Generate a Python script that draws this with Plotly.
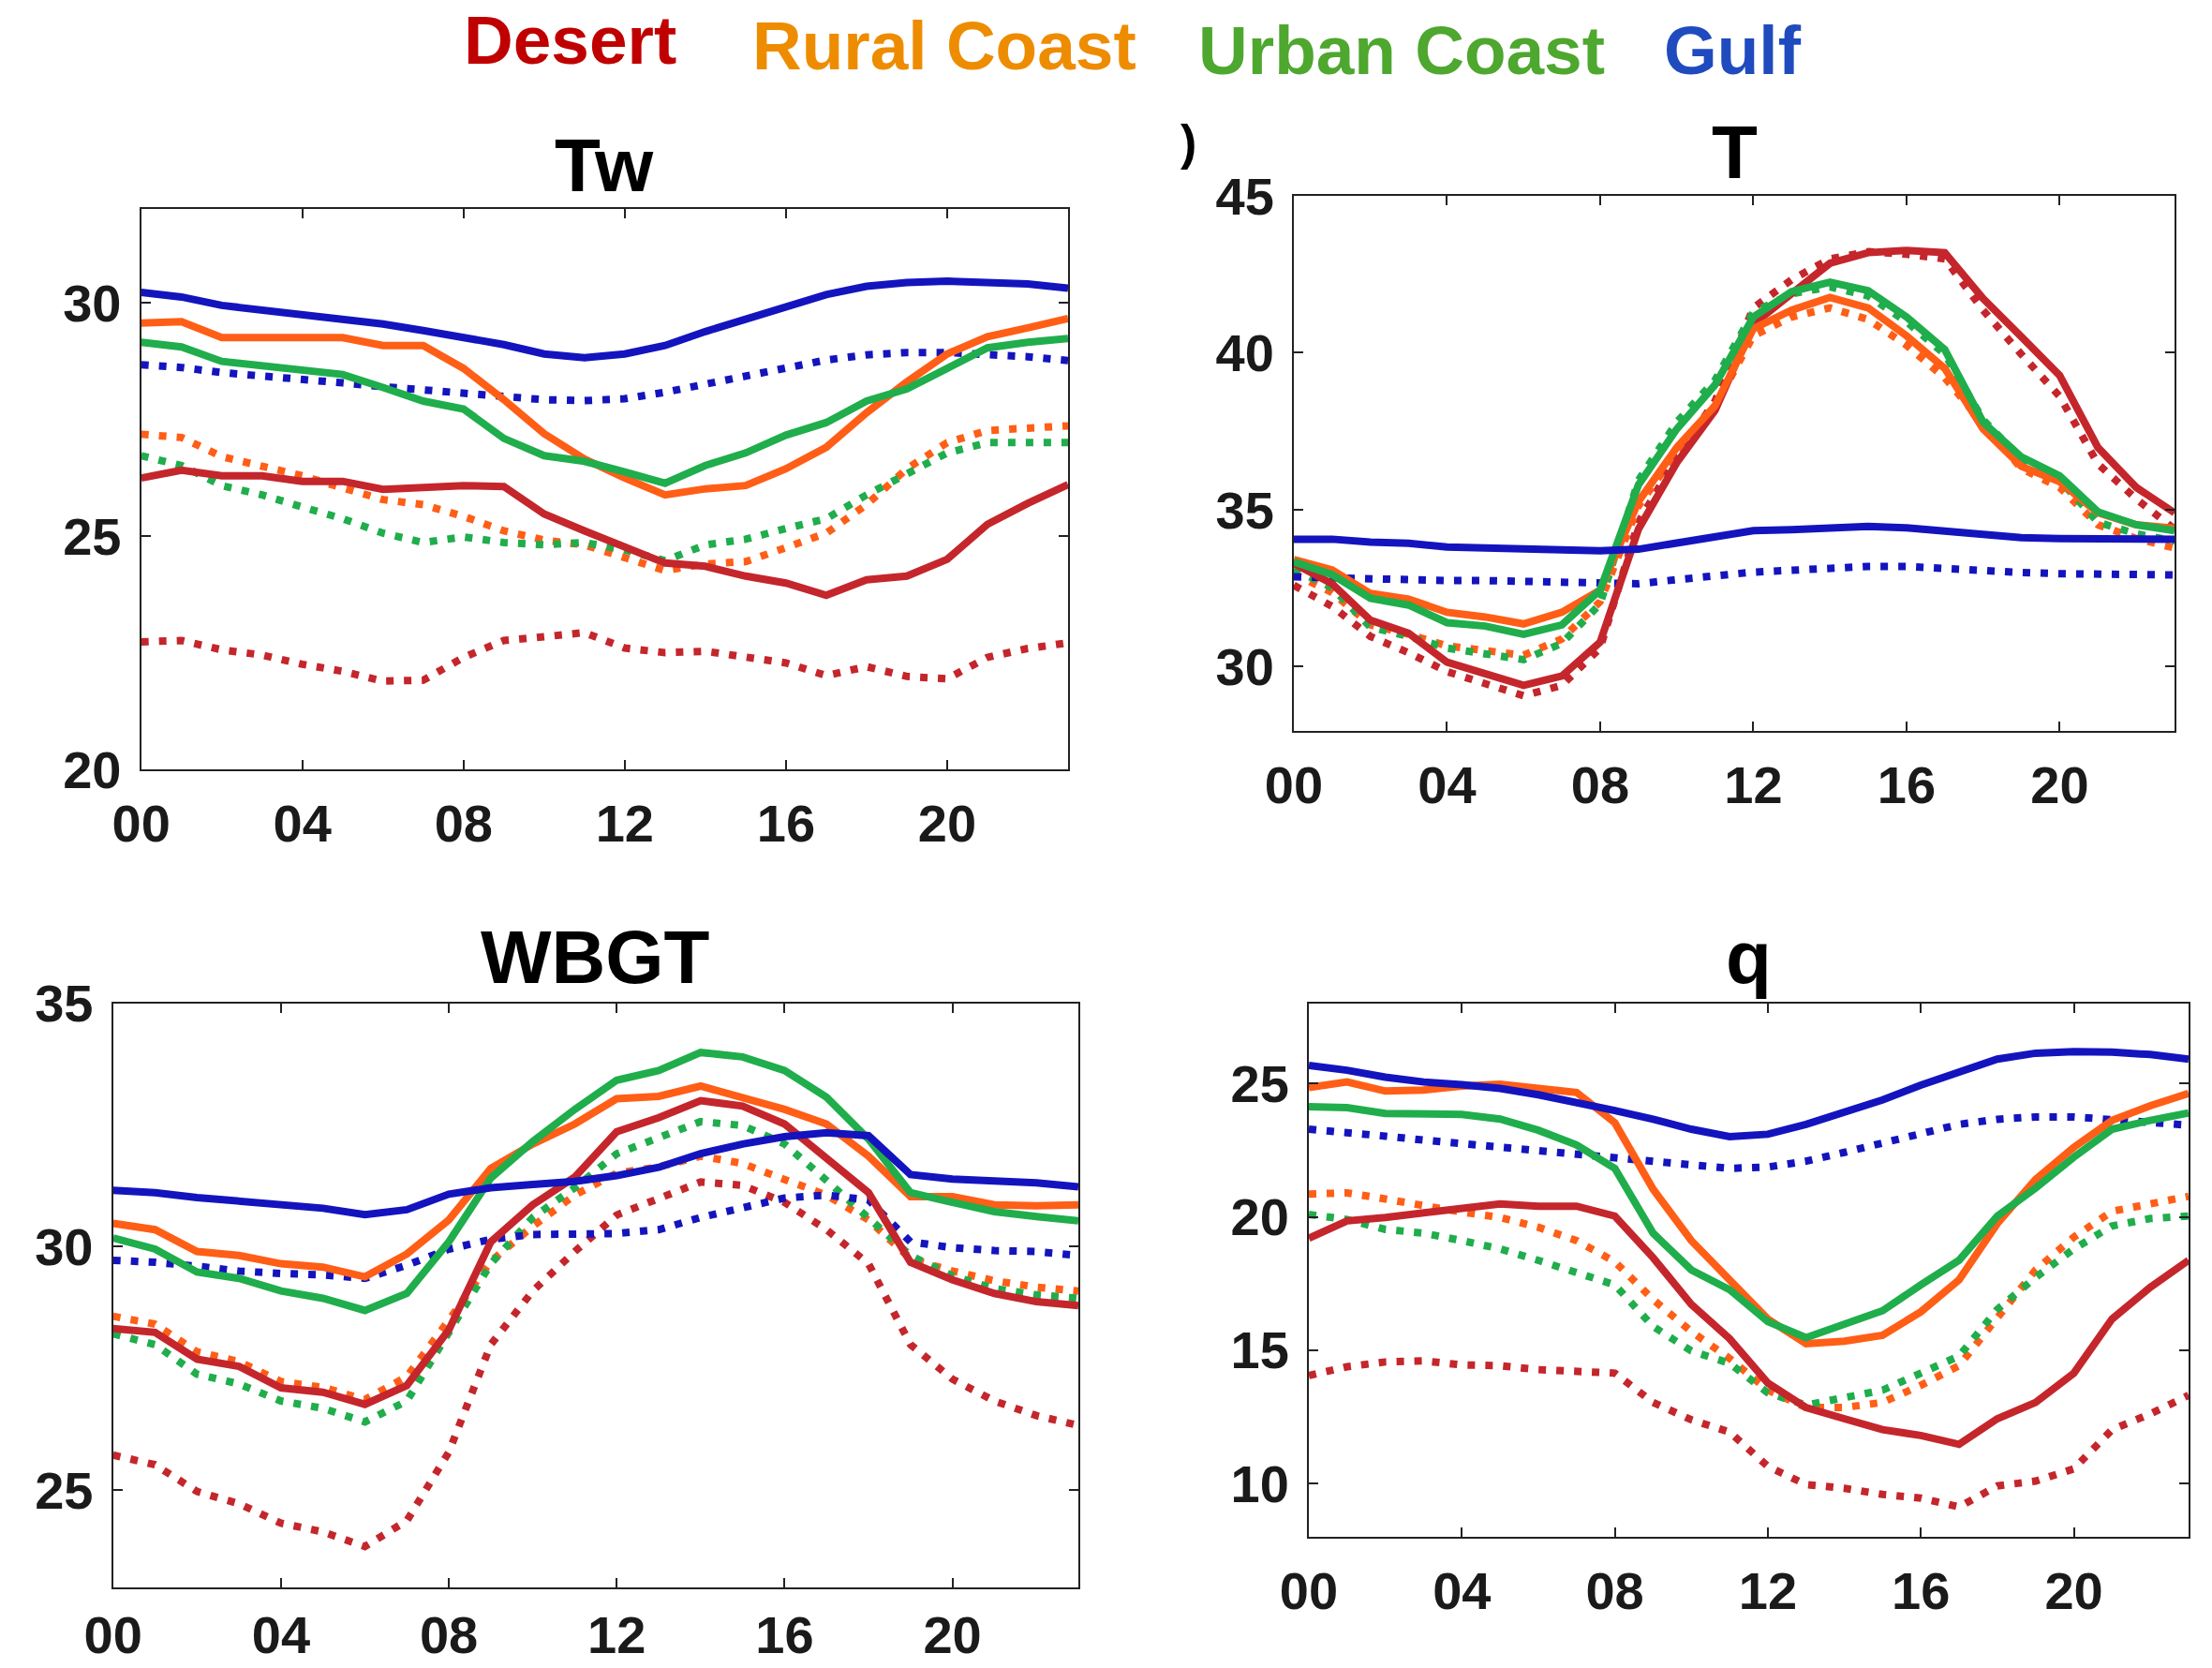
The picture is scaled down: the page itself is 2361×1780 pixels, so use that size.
import plotly.graph_objects as go

W, H = 2361, 1780
hours = list(range(24))
x_tickvals = [0, 4, 8, 12, 16, 20]
x_ticktext = ["00", "04", "08", "12", "16", "20"]

region_names = ["Desert", "Rural Coast", "Urban Coast", "Gulf"]
legend_colors = ["#C00000", "#EE8C00", "#4EA72E", "#1F4BBE"]
line_colors = {"Desert": "#C4262C", "Rural Coast": "#FF5E16", "Urban Coast": "#20AD4C", "Gulf": "#1414BE"}

# ---------------- Tw ----------------
tw_desert = [26.24, 26.41, 26.29, 26.29, 26.17, 26.17, 26.00, 26.03, 26.08, 26.06, 25.47, 25.11,
             24.75, 24.42, 24.35, 24.14, 23.99, 23.73, 24.06, 24.14, 24.50, 25.25, 25.70, 26.10]
tw_desert_dot = [22.73, 22.76, 22.56, 22.45, 22.25, 22.10, 21.89, 21.91, 22.40, 22.76, 22.84, 22.93,
                 22.60, 22.50, 22.53, 22.40, 22.28, 22.01, 22.20, 21.99, 21.94, 22.40, 22.59, 22.71]
tw_rural = [29.56, 29.59, 29.25, 29.25, 29.25, 29.25, 29.08, 29.08, 28.59, 27.92, 27.19, 26.65,
            26.24, 25.88, 26.01, 26.08, 26.44, 26.90, 27.64, 28.30, 28.90, 29.27, 29.46, 29.66]
tw_rural_dot = [27.18, 27.11, 26.70, 26.51, 26.29, 26.03, 25.78, 25.67, 25.42, 25.11, 24.91, 24.81,
                24.55, 24.26, 24.40, 24.45, 24.75, 25.06, 25.67, 26.44, 27.00, 27.26, 27.31, 27.36]
tw_urban = [29.15, 29.05, 28.74, 28.66, 28.57, 28.46, 28.18, 27.89, 27.72, 27.09, 26.72, 26.60,
            26.37, 26.13, 26.51, 26.78, 27.16, 27.43, 27.89, 28.15, 28.59, 29.03, 29.15, 29.23]
tw_urban_dot = [26.72, 26.51, 26.08, 25.88, 25.62, 25.37, 25.06, 24.86, 24.98, 24.86, 24.81, 24.86,
                24.70, 24.47, 24.81, 24.93, 25.16, 25.37, 25.88, 26.34, 26.78, 27.00, 27.00, 27.00]
tw_gulf = [30.22, 30.12, 29.94, 29.84, 29.76, 29.66, 29.54, 29.40, 29.25, 29.10, 28.90, 28.82,
           28.90, 29.08, 29.38, 29.64, 29.92, 30.17, 30.35, 30.43, 30.46, 30.45, 30.40, 30.31]
tw_gulf_dot = [28.67, 28.61, 28.50, 28.44, 28.36, 28.28, 28.20, 28.13, 28.05, 27.98, 27.92, 27.90,
               27.94, 28.08, 28.25, 28.44, 28.61, 28.77, 28.88, 28.93, 28.93, 28.90, 28.84, 28.76]

# ---------------- T ----------------
t_desert = [33.29, 32.64, 31.48, 31.06, 30.14, 29.80, 29.40, 29.70, 30.78, 34.38, 36.50, 38.16,
            40.91, 41.88, 42.85, 43.19, 43.26, 43.19, 41.73, 40.51, 39.28, 36.98, 35.71, 34.90]
t_desert_dot = [32.59, 31.92, 30.96, 30.44, 29.84, 29.47, 29.07, 29.40, 30.59, 34.60, 36.68, 38.46,
                41.43, 42.33, 42.99, 43.22, 43.14, 42.99, 41.36, 39.95, 38.61, 36.46, 35.34, 34.38]
t_rural = [33.41, 33.08, 32.33, 32.15, 31.73, 31.58, 31.36, 31.73, 32.44, 35.26, 36.98, 38.31,
           40.77, 41.36, 41.76, 41.43, 40.54, 39.50, 37.57, 36.38, 35.89, 34.90, 34.52, 34.41]
t_rural_dot = [32.96, 32.36, 31.33, 31.03, 30.66, 30.51, 30.36, 30.88, 32.07, 35.12, 36.83, 38.31,
               40.54, 41.14, 41.43, 41.06, 40.24, 39.20, 37.72, 36.31, 35.71, 34.52, 34.08, 33.78]
t_urban = [33.34, 32.93, 32.18, 31.96, 31.40, 31.29, 31.03, 31.33, 32.44, 35.79, 37.57, 38.98,
           41.14, 41.95, 42.25, 41.98, 41.14, 40.10, 37.79, 36.68, 36.08, 34.93, 34.52, 34.33]
t_urban_dot = [33.11, 32.51, 31.26, 30.96, 30.59, 30.41, 30.22, 30.74, 32.00, 35.94, 37.79, 39.13,
               41.29, 41.88, 42.10, 41.81, 40.99, 39.95, 37.87, 36.60, 35.94, 34.60, 34.23, 34.00]
t_gulf = [34.06, 34.06, 33.97, 33.93, 33.81, 33.78, 33.77, 33.74, 33.69, 33.74, 33.93, 34.18,
          34.33, 34.36, 34.44, 34.47, 34.42, 34.30, 34.18, 34.11, 34.08, 34.08, 34.06, 34.06]
t_gulf_dot = [32.86, 32.82, 32.79, 32.79, 32.74, 32.74, 32.71, 32.67, 32.62, 32.64, 32.77, 32.92,
              33.01, 33.07, 33.14, 33.19, 33.19, 33.11, 33.04, 33.00, 32.96, 32.96, 32.93, 32.92]

# ---------------- WBGT ----------------
wbgt_desert = [28.32, 28.24, 27.69, 27.54, 27.10, 27.01, 26.76, 27.15, 28.29, 30.10, 30.86, 31.43,
               32.36, 32.65, 33.00, 32.89, 32.52, 31.83, 31.11, 29.68, 29.32, 29.04, 28.87, 28.79]
wbgt_desert_dot = [25.72, 25.52, 24.97, 24.72, 24.32, 24.14, 23.84, 24.37, 25.78, 27.99, 29.09, 29.90,
                   30.65, 31.01, 31.33, 31.26, 30.91, 30.35, 29.65, 27.99, 27.28, 26.83, 26.53, 26.33]
wbgt_rural = [30.48, 30.35, 29.90, 29.82, 29.65, 29.58, 29.38, 29.85, 30.55, 31.61, 32.11, 32.52,
              33.04, 33.09, 33.30, 33.07, 32.82, 32.52, 31.86, 31.03, 31.03, 30.86, 30.84, 30.86]
wbgt_rural_dot = [28.57, 28.41, 27.84, 27.64, 27.23, 27.11, 26.86, 27.33, 28.49, 29.70, 30.42, 31.06,
                  31.51, 31.64, 31.86, 31.71, 31.38, 31.06, 30.55, 29.75, 29.50, 29.30, 29.17, 29.09]
wbgt_urban = [30.18, 29.95, 29.48, 29.35, 29.09, 28.94, 28.69, 29.04, 30.10, 31.41, 32.16, 32.82,
              33.42, 33.62, 33.99, 33.90, 33.62, 33.07, 32.21, 31.11, 30.91, 30.72, 30.62, 30.53]
wbgt_urban_dot = [28.21, 27.99, 27.38, 27.18, 26.83, 26.68, 26.40, 26.83, 28.24, 29.65, 30.60, 31.21,
                  31.91, 32.26, 32.57, 32.49, 32.11, 31.36, 30.60, 29.82, 29.40, 29.14, 29.01, 28.94]
wbgt_gulf = [31.16, 31.11, 31.01, 30.93, 30.86, 30.79, 30.66, 30.76, 31.08, 31.21, 31.28, 31.34,
             31.46, 31.63, 31.91, 32.11, 32.26, 32.34, 32.28, 31.48, 31.39, 31.36, 31.31, 31.23]
wbgt_gulf_dot = [29.72, 29.68, 29.60, 29.50, 29.45, 29.42, 29.35, 29.62, 29.95, 30.15, 30.25, 30.27,
                 30.27, 30.35, 30.60, 30.80, 31.00, 31.06, 30.96, 30.10, 29.98, 29.92, 29.90, 29.82]

# ---------------- q ----------------
q_desert = [19.20, 19.85, 19.98, 20.16, 20.31, 20.49, 20.40, 20.40, 20.03, 18.47, 16.72, 15.43,
            13.77, 12.85, 12.43, 12.02, 11.80, 11.47, 12.43, 13.04, 14.14, 16.17, 17.36, 18.37]
q_desert_dot = [14.05, 14.38, 14.56, 14.60, 14.45, 14.42, 14.27, 14.20, 14.14, 13.04, 12.39, 11.93,
                10.64, 9.96, 9.82, 9.59, 9.45, 9.12, 9.91, 10.09, 10.55, 12.02, 12.61, 13.31]
q_rural = [24.85, 25.06, 24.72, 24.76, 24.91, 24.98, 24.82, 24.67, 23.53, 21.04, 19.11, 17.64,
           16.17, 15.24, 15.34, 15.56, 16.44, 17.64, 19.75, 21.41, 22.61, 23.62, 24.17, 24.63]
q_rural_dot = [20.86, 20.90, 20.67, 20.40, 20.18, 19.98, 19.61, 19.11, 18.32, 16.90, 15.70, 14.69,
               13.50, 12.85, 12.85, 13.04, 13.68, 14.42, 16.26, 18.01, 19.24, 20.21, 20.49, 20.77]
q_urban = [24.13, 24.10, 23.88, 23.84, 23.84, 23.67, 23.25, 22.70, 21.82, 19.39, 18.01, 17.27,
           16.07, 15.47, 15.98, 16.48, 17.45, 18.37, 20.03, 21.08, 22.24, 23.29, 23.62, 23.90]
q_urban_dot = [20.09, 19.90, 19.53, 19.39, 19.11, 18.80, 18.37, 17.91, 17.45, 15.89, 14.97, 14.51,
               13.40, 12.94, 13.22, 13.50, 14.14, 14.78, 16.53, 17.73, 18.80, 19.66, 19.94, 20.03]
q_gulf = [25.68, 25.50, 25.24, 25.06, 24.96, 24.82, 24.58, 24.32, 23.99, 23.66, 23.29, 23.01,
          23.10, 23.47, 23.93, 24.39, 24.94, 25.46, 25.92, 26.14, 26.20, 26.18, 26.09, 25.92]
q_gulf_dot = [23.29, 23.18, 23.03, 22.88, 22.75, 22.61, 22.46, 22.33, 22.20, 22.06, 21.91, 21.82,
              21.87, 22.09, 22.42, 22.79, 23.16, 23.47, 23.66, 23.75, 23.75, 23.67, 23.58, 23.44]

panel_titles = ["Tw", "T", "WBGT", "q"]
panel_series = [
    {"Desert": (tw_desert, tw_desert_dot), "Rural Coast": (tw_rural, tw_rural_dot),
     "Urban Coast": (tw_urban, tw_urban_dot), "Gulf": (tw_gulf, tw_gulf_dot)},
    {"Desert": (t_desert, t_desert_dot), "Rural Coast": (t_rural, t_rural_dot),
     "Urban Coast": (t_urban, t_urban_dot), "Gulf": (t_gulf, t_gulf_dot)},
    {"Desert": (wbgt_desert, wbgt_desert_dot), "Rural Coast": (wbgt_rural, wbgt_rural_dot),
     "Urban Coast": (wbgt_urban, wbgt_urban_dot), "Gulf": (wbgt_gulf, wbgt_gulf_dot)},
    {"Desert": (q_desert, q_desert_dot), "Rural Coast": (q_rural, q_rural_dot),
     "Urban Coast": (q_urban, q_urban_dot), "Gulf": (q_gulf, q_gulf_dot)},
]
y_ranges = [[20, 32], [27.95, 45], [23, 35], [8, 28]]
y_ticks = [[20, 25, 30], [30, 35, 40, 45], [25, 30, 35], [10, 15, 20, 25]]

# panel boxes in pixels: left, right, top, bottom
boxes = [(150.7, 1140, 223.3, 821), (1381, 2321, 209, 780),
         (120.7, 1151, 1070.7, 1694), (1397, 2336, 1071, 1640)]
title_baselines = [203.3, 190, 1049, 1049]
x_label_standoff = [8, 8, 1, 8]

FONT = "Liberation Sans, Arial, Helvetica, sans-serif"
AXC = "#222222"
fig = go.Figure()
layout = dict(width=W, height=H, margin=dict(l=0, r=0, t=0, b=0, autoexpand=False),
              paper_bgcolor="white", plot_bgcolor="white", showlegend=False)

annotations = []
for i in range(4):
    ax = "" if i == 0 else str(i + 1)
    l, r, t, b = boxes[i]
    layout["xaxis" + ax] = dict(
        domain=[l / W, r / W], anchor="y" + ax, range=[0, 23],
        tickvals=x_tickvals, ticktext=x_ticktext, ticks="inside", ticklen=10, tickwidth=2,
        tickcolor=AXC, showline=True, linewidth=2, linecolor=AXC, mirror="allticks",
        showgrid=False, zeroline=False, ticklabelstandoff=x_label_standoff[i],
        tickfont=dict(family=FONT, size=56, color="#1a1a1a", weight="bold"))
    layout["yaxis" + ax] = dict(
        domain=[1 - b / H, 1 - t / H], anchor="x" + ax, range=y_ranges[i],
        tickvals=y_ticks[i], ticks="inside", ticklen=10, tickwidth=2,
        tickcolor=AXC, showline=True, linewidth=2, linecolor=AXC, mirror="allticks",
        showgrid=False, zeroline=False, ticklabelstandoff=8,
        tickfont=dict(family=FONT, size=56, color="#1a1a1a", weight="bold"))
    for name in region_names:
        solid, dotted = panel_series[i][name]
        fig.add_trace(go.Scatter(x=hours, y=dotted, mode="lines", xaxis="x" + ax, yaxis="y" + ax,
                                 line=dict(color=line_colors[name], width=8, dash="8px,11px"),
                                 name=name + " (dotted)"))
    for name in region_names:
        solid, dotted = panel_series[i][name]
        fig.add_trace(go.Scatter(x=hours, y=solid, mode="lines", xaxis="x" + ax, yaxis="y" + ax,
                                 line=dict(color=line_colors[name], width=8), name=name))
    fs = 80
    annotations.append(dict(text=panel_titles[i], xref="paper", yref="paper",
                            x=(l + r) / 2 / W, y=1 - (title_baselines[i] - 0.34 * fs) / H,
                            xanchor="center", yanchor="middle", showarrow=False,
                            font=dict(family=FONT, size=fs, color="black", weight="bold")))

legend_x = [(495.5 + 721) / 2, (801 + 1214) / 2, (1278 + 1714) / 2, (1776 + 1923) / 2]
legend_base = [67.7, 73.5, 78.4, 78.4]
for name, col, xc, yb in zip(region_names, legend_colors, legend_x, legend_base):
    fs = 73
    annotations.append(dict(text=name, xref="paper", yref="paper", x=xc / W,
                            y=1 - (yb - 0.34 * fs) / H, xanchor="center", yanchor="middle",
                            showarrow=False,
                            font=dict(family=FONT, size=fs, color=col, weight="bold")))

# clipped panel-label remnant visible at the top left of the T panel
annotations.append(dict(text=")", xref="paper", yref="paper", x=1268 / W, y=1 - 152 / H,
                        xanchor="center", yanchor="middle", showarrow=False,
                        font=dict(family=FONT, size=52, color="black", weight="bold")))

layout["annotations"] = annotations
fig.update_layout(**layout)
fig.write_html("out.html")
